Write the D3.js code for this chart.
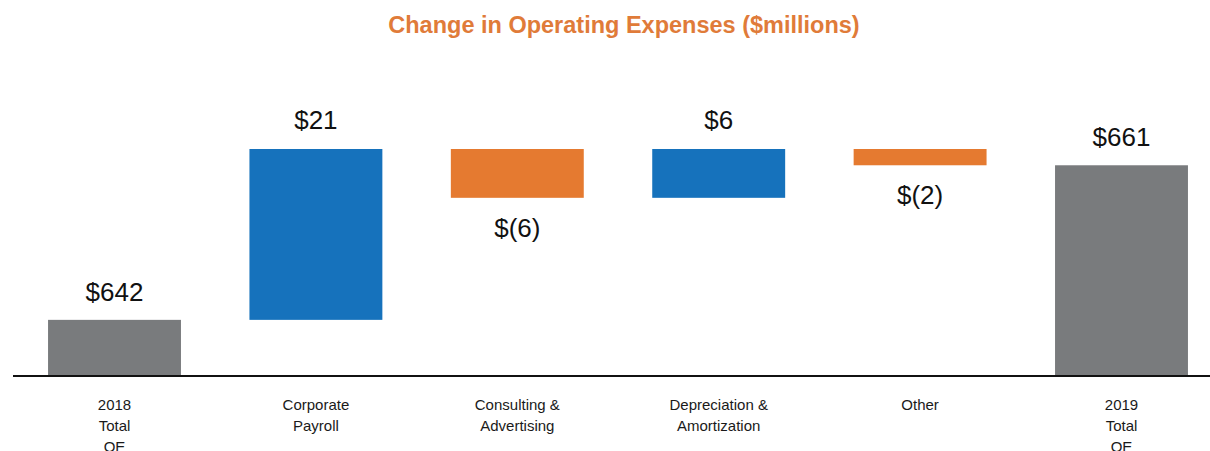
<!DOCTYPE html>
<html>
<head>
<meta charset="utf-8">
<script src="https://cdn.jsdelivr.net/npm/d3@7"></script>
<style>
  html, body { margin: 0; padding: 0; background: #fff; }
  svg { display: block; font-family: "Liberation Sans", Arial, sans-serif; }
</style>
</head>
<body>
<svg id="chart" width="1210" height="451"></svg>
<script>
// data
const categories = ['2018 Total OE', 'Corporate Payroll', 'Consulting & Advertising',
  'Depreciation & Amortization', 'Other', '2019 Total OE'];
const labelLines = [['2018', 'Total', 'OE'], ['Corporate', 'Payroll'], ['Consulting &', 'Advertising'],
  ['Depreciation &', 'Amortization'], ['Other'], ['2019', 'Total', 'OE']];
const changes = [642, 21, -6, 6, -2, 661];
const kinds = ['total', 'delta', 'delta', 'delta', 'delta', 'total'];
const valueLabels = ['$642', '$21', '$(6)', '$6', '$(2)', '$661'];

const width = 1210;
const height = 451;
const baseY = 376;

const svg = d3.select('#chart');

// build waterfall start / end
let running = 0;
const bars = categories.map((c, i) => {
  let start, end;
  if (kinds[i] === 'total') {
    start = null;
    end = changes[i];
    running = changes[i];
  } else {
    start = running;
    end = running + changes[i];
    running = end;
  }
  return { name: c, lines: labelLines[i], kind: kinds[i], value: changes[i], start, end, label: valueLabels[i] };
});

const x = d3.scaleBand()
  .domain(categories)
  .range([13, 1223])
  .paddingInner(0.34)
  .paddingOuter(0.174);

// axis is broken: baseline sits well above zero
const y = d3.scaleLinear()
  .domain([635.1, 663])
  .range([baseY, 149]);

const color = (d) => {
  if (d.kind === 'total') return '#797b7d';
  return d.value >= 0 ? '#1672bc' : '#e57a30';
};

// title
svg.append('text')
  .attr('x', 624)
  .attr('y', 33)
  .attr('text-anchor', 'middle')
  .attr('font-size', 23.5)
  .attr('font-weight', 'bold')
  .attr('fill', '#e07b39')
  .text('Change in Operating Expenses ($millions)');

// bars
svg.selectAll('rect.bar')
  .data(bars)
  .enter()
  .append('rect')
  .attr('class', 'bar')
  .attr('x', (d) => x(d.name))
  .attr('width', x.bandwidth())
  .attr('y', (d) => d.kind === 'total' ? y(d.end) : y(Math.max(d.start, d.end)))
  .attr('height', (d) => {
    if (d.kind === 'total') return baseY - y(d.end);
    return Math.abs(y(d.start) - y(d.end));
  })
  .attr('fill', color);

// baseline
svg.append('line')
  .attr('x1', 13)
  .attr('x2', width)
  .attr('y1', baseY)
  .attr('y2', baseY)
  .attr('stroke', '#111')
  .attr('stroke-width', 2);

// value labels
svg.selectAll('text.value')
  .data(bars)
  .enter()
  .append('text')
  .attr('class', 'value')
  .attr('x', (d) => x(d.name) + x.bandwidth() / 2)
  .attr('y', (d) => {
    if (d.kind === 'total') return y(d.end) - 19;
    if (d.value >= 0) return y(d.end) - 20;
    return y(d.end) + 39;
  })
  .attr('text-anchor', 'middle')
  .attr('font-size', 26)
  .attr('fill', '#111')
  .text((d) => d.label);

// category labels
const cats = svg.selectAll('text.cat')
  .data(bars)
  .enter()
  .append('text')
  .attr('class', 'cat')
  .attr('text-anchor', 'middle')
  .attr('font-size', 15)
  .attr('fill', '#1a1a1a')
  .attr('transform', (d) => `translate(${x(d.name) + x.bandwidth() / 2}, 410)`);

cats.selectAll('tspan')
  .data((d) => d.lines)
  .enter()
  .append('tspan')
  .attr('x', 0)
  .attr('y', (d, i) => i * 21)
  .text((d) => d);
</script>
</body>
</html>
